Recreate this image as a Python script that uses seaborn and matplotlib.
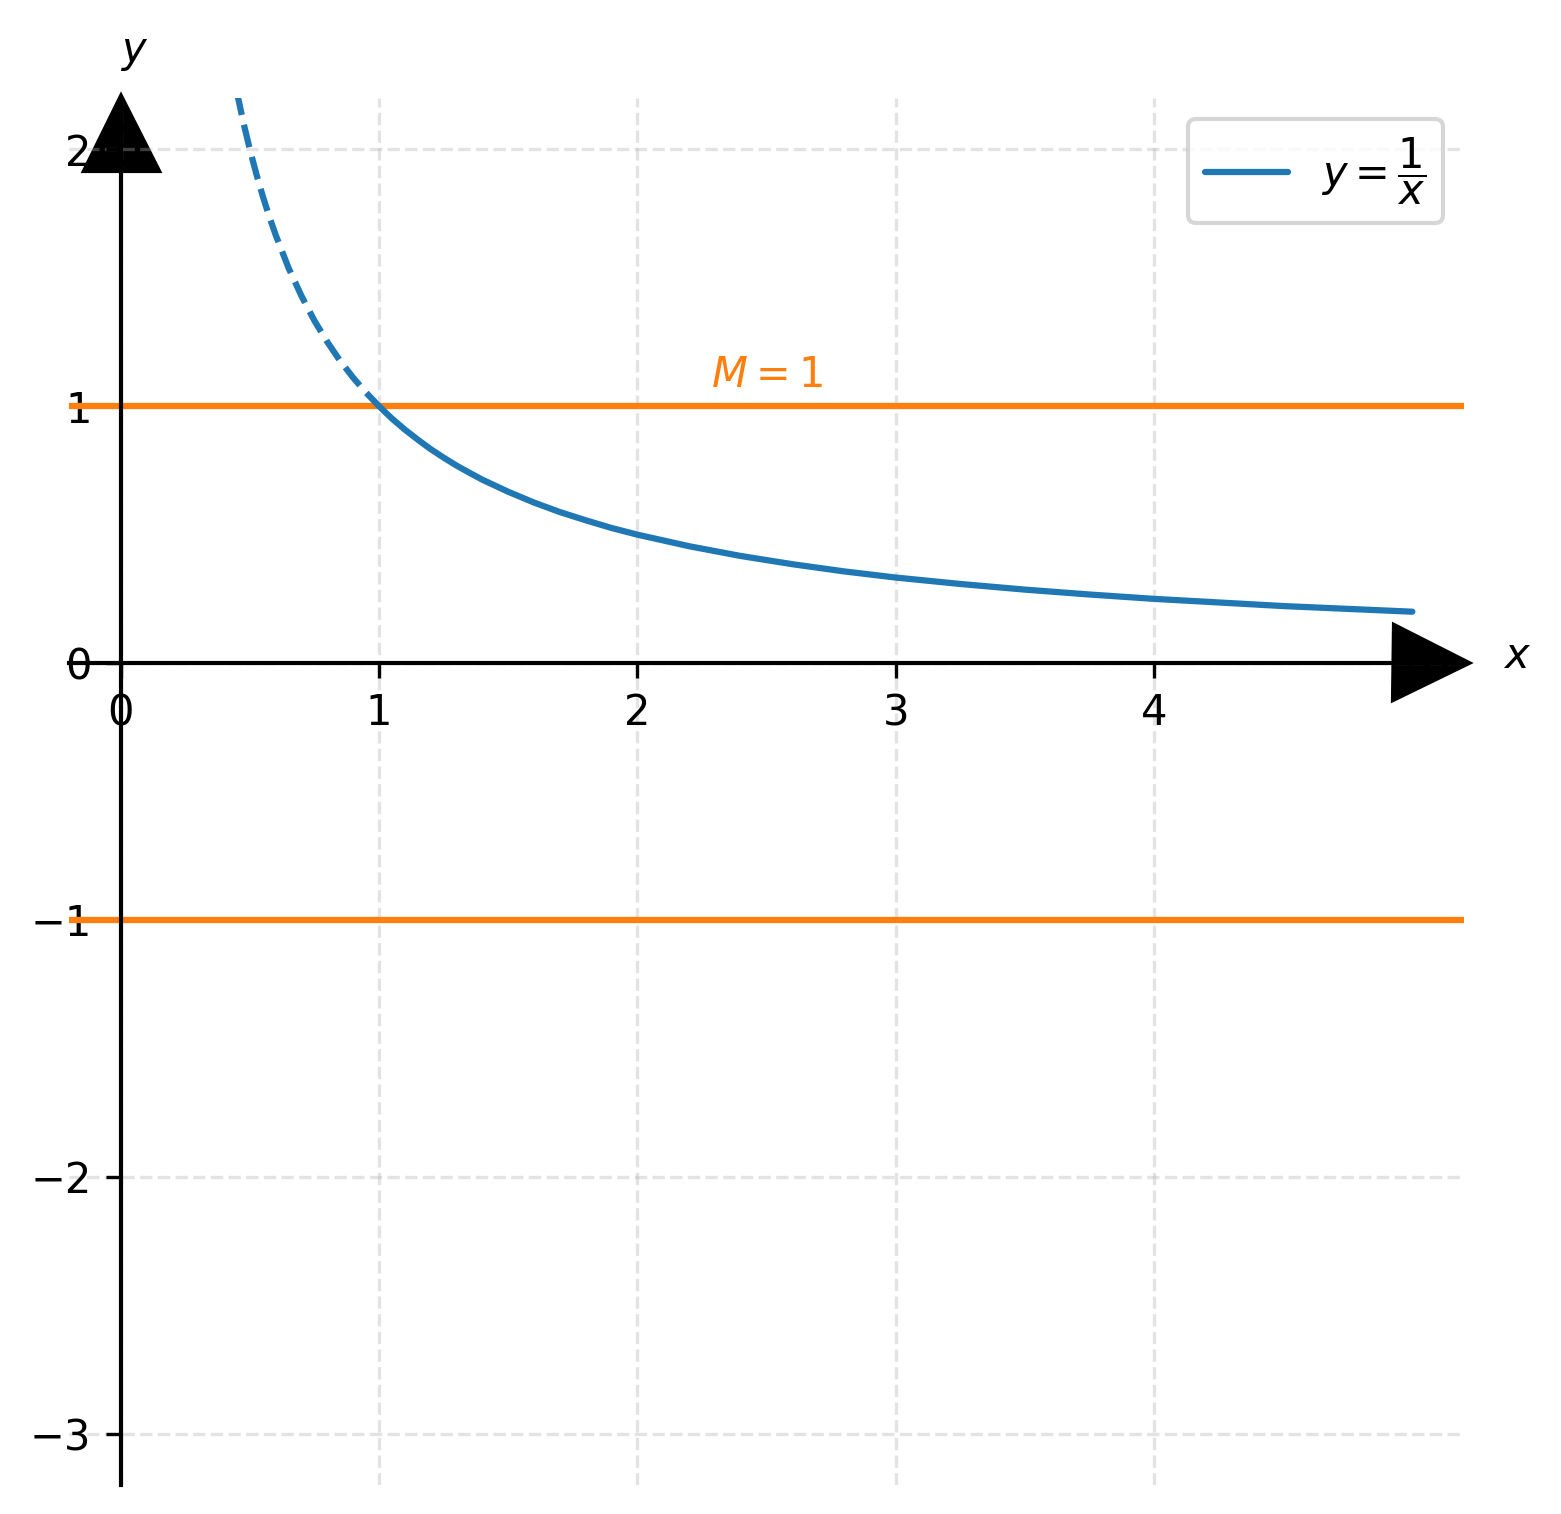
import matplotlib.pyplot as plt
import numpy as np
import pandas as pd
import seaborn as sns

# Pontos da curva y = 1/x
x_dashed = [0.45, 0.475, 0.5, 0.525, 0.55, 0.575, 0.6, 0.65, 0.7, 0.75, 0.8, 0.85, 0.9, 0.95, 1.0]
y_dashed = [2.222, 2.105, 2.0, 1.905, 1.818, 1.739, 1.667, 1.538, 1.429, 1.333, 1.25, 1.176,
            1.111, 1.053, 1.0]
x_solid = [1.0, 1.05, 1.1, 1.15, 1.2, 1.25, 1.3, 1.35, 1.4, 1.5, 1.6, 1.7, 1.8, 1.9, 2.0,
           2.2, 2.4, 2.6, 2.8, 3.0, 3.25, 3.5, 3.75, 4.0, 4.5, 5.0]
y_solid = [1.0, 0.952, 0.909, 0.87, 0.833, 0.8, 0.769, 0.741, 0.714, 0.667, 0.625, 0.588,
           0.556, 0.526, 0.5, 0.455, 0.417, 0.385, 0.357, 0.333, 0.308, 0.286, 0.267, 0.25,
           0.222, 0.2]

bounds = [1, -1]
bound_text_pos = (2.5, 1.04)
curve_label = r"$y = \dfrac{1}{x}$"
bound_label = r"$M = 1$"
x_ticks = [0, 1, 2, 3, 4]
y_ticks = [-3, -2, -1, 0, 1, 2]

BLUE = "#1f77b4"
ORANGE = "#ff7f0e"

sns.set_style("white")
plt.rcParams["font.family"] = ["DejaVu Sans"]
plt.rcParams.update({
    "axes.edgecolor": "black",
    "text.color": "black",
    "xtick.color": "black",
    "ytick.color": "black",
    "xtick.bottom": True,
    "ytick.left": True,
    "xtick.direction": "out",
    "ytick.direction": "out",
    "xtick.major.size": 3.5,
    "ytick.major.size": 3.5,
    "xtick.major.width": 0.8,
    "ytick.major.width": 0.8,
    "xtick.labelsize": 10,
    "ytick.labelsize": 10,
    "legend.fontsize": 10,
})

df_dashed = pd.DataFrame({"x": x_dashed, "y": y_dashed})
df_solid = pd.DataFrame({"x": x_solid, "y": y_solid})

fig = plt.figure(figsize=(1561 / 300, 1514 / 300), dpi=300)
ax = fig.add_axes([69 / 1561, 1 - 1485 / 1514, 1395 / 1561, 1387 / 1514])

# linhas horizontais M e -M
for b in bounds:
    ax.axhline(b, color=ORANGE, lw=1.5)

sns.lineplot(data=df_dashed, x="x", y="y", ax=ax, color=BLUE, lw=1.5,
             linestyle="--", sort=False)
sns.lineplot(data=df_solid, x="x", y="y", ax=ax, color=BLUE, lw=1.5,
             sort=False, label=curve_label)

ax.text(*bound_text_pos, bound_label, color=ORANGE, fontsize=10,
        ha="center", va="bottom")

ax.set_xlim(-0.2, 5.2)
ax.set_ylim(-3.2, 2.2)
ax.set_xticks(x_ticks)
ax.set_yticks(y_ticks)
ax.set_xlabel("")
ax.set_ylabel("")

ax.set_axisbelow("line")
ax.grid(True, linestyle="--", color="#b0b0b0", alpha=0.35, lw=0.8)

# eixos cruzando na origem
ax.spines["left"].set_position(("data", 0))
ax.spines["bottom"].set_position(("data", 0))
ax.spines["right"].set_visible(False)
ax.spines["top"].set_visible(False)
ax.spines["left"].set_linewidth(1.0)
ax.spines["bottom"].set_linewidth(1.0)

# setas nas pontas dos eixos
ax.plot(0.976, 0, ">k", markersize=18, transform=ax.get_yaxis_transform(),
        clip_on=False, zorder=1)
ax.plot(0, 0.975, "^k", markersize=18, transform=ax.get_xaxis_transform(),
        clip_on=False, zorder=1)

ax.text(1.038, 0.027, r"$x$", transform=ax.get_yaxis_transform(),
        ha="center", va="center", fontsize=10)
ax.text(0.053, 1.033, r"$y$", transform=ax.get_xaxis_transform(),
        ha="center", va="center", fontsize=10)

ax.legend(loc="upper right")

plt.savefig("out.png", dpi=300)
